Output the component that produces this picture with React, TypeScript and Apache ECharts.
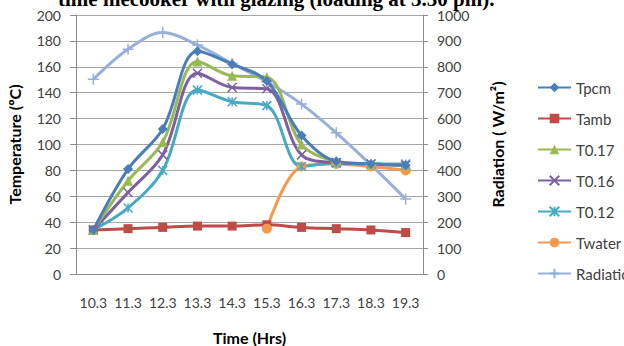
import React, { useEffect, useRef } from "react";
import * as echarts from "echarts";

const categories = ["10.3", "11.3", "12.3", "13.3", "14.3", "15.3", "16.3", "17.3", "18.3", "19.3"];
const tpcm = [34, 81, 112, 172, 162, 149, 107, 87, 85, 84];
const tamb = [34, 35, 36, 37, 37, 38, 36, 35, 34, 32];
const t017 = [34, 72, 102, 164, 153, 152, 100, 87, 85, 84];
const t016 = [34, 63, 92, 155, 144, 143, 92, 86, 85, 84];
const t012 = [34, 51, 80, 142, 133, 130, 83, 86, 85, 85];
const twater = [null, null, null, null, null, 35, 83, 85, 83, 80];
const radiation = [752, 868, 932, 884, 813, 742, 656, 545, 421, 290];

const FONT = "Lato";
const XMARK = "path://M0 0L10 10M10 0L0 10";
const ASTER = "path://M0 0L10 10M10 0L0 10M5 0L5 10";
const PLUS = "path://M5 0L5 10M0 5L10 5";

function lineSeries(name: string, data: any[], color: string, symbol: string, size: number, yAxisIndex = 0, stroked = false) {
  return {
    name,
    type: "line",
    data,
    yAxisIndex,
    smooth: 0.35,
    symbol,
    symbolSize: size,
    showSymbol: true,
    connectNulls: false,
    lineStyle: { color, width: 3 },
    itemStyle: stroked
      ? { color: "rgba(0,0,0,0)", borderColor: color, borderWidth: 1.5 }
      : { color, borderColor: color, borderWidth: 0 },
    emphasis: { disabled: true },
  };
}

export default function App() {
  const ref = useRef<HTMLDivElement>(null);
  useEffect(() => {
    const chart = echarts.init(ref.current!, null, { renderer: "svg" });
    chart.setOption({
      animation: false,
      backgroundColor: "#ffffff",
      textStyle: { fontFamily: FONT },
      grid: { left: 76, right: 201, top: 15, bottom: 72, outerBoundsMode: "none", containLabel: false },
      graphic: [
        {
          type: "text",
          left: 58,
          top: -12,
          style: {
            text: "time mecooker with glazing (loading at 3.30 pm).",
            font: "bold 21px 'Liberation Serif'",
            fill: "#000",
          },
        },
      ],
      legend: {
        orient: "vertical",
        left: 537,
        top: 80,
        padding: 0,
        itemWidth: 33,
        itemHeight: 12,
        itemGap: 16,
        textStyle: { fontFamily: FONT, fontSize: 15, color: "#404040" },
        data: ["Tpcm", "Tamb", "T0.17", "T0.16", "T0.12", "Twater", "Radiation"],
      },
      xAxis: {
        type: "category",
        data: categories,
        boundaryGap: true,
        name: "Time (Hrs)",
        nameLocation: "middle",
        nameGap: 55,
        nameTextStyle: { fontFamily: FONT, fontWeight: "bold", fontSize: 16, color: "#000" },
        axisLine: { lineStyle: { color: "#8c8c8c", width: 1 } },
        axisTick: { show: false },
        axisLabel: { fontFamily: FONT, fontSize: 14, color: "#404040", margin: 21, interval: 0 },
      },
      yAxis: [
        {
          type: "value",
          min: 0,
          max: 200,
          interval: 20,
          name: "Temperature (ºC)",
          nameLocation: "middle",
          nameGap: 54,
          nameTextStyle: { fontFamily: FONT, fontWeight: "bold", fontSize: 16, color: "#000" },
          axisLine: { show: true, lineStyle: { color: "#8c8c8c" } },
          axisTick: { show: true, length: 6, lineStyle: { color: "#8c8c8c" } },
          axisLabel: { fontFamily: FONT, fontSize: 14, color: "#404040", margin: 15 },
          splitLine: { lineStyle: { color: "#a6a6a6", width: 1 } },
        },
        {
          type: "value",
          min: 0,
          max: 1000,
          interval: 100,
          position: "right",
          name: "Radiation ( W/m²)",
          nameLocation: "middle",
          nameGap: 66,
          nameRotate: 90,
          nameTextStyle: { fontFamily: FONT, fontWeight: "bold", fontSize: 16, color: "#000" },
          axisLine: { show: true, lineStyle: { color: "#8c8c8c" } },
          axisTick: { show: true, length: 5, lineStyle: { color: "#8c8c8c" } },
          axisLabel: { fontFamily: FONT, fontSize: 14, color: "#404040", margin: 14, formatter: (v: number) => String(v) },
          splitLine: { show: false },
        },
      ],
      series: [
        lineSeries("Radiation", radiation, "#98AFD6", PLUS, 11, 1, true),
        lineSeries("Tamb", tamb, "#BE4B48", "rect", 9),
        lineSeries("Twater", twater, "#F59A4C", "circle", 10),
        lineSeries("T0.12", t012, "#46AAC5", ASTER, 9, 0, true),
        lineSeries("T0.16", t016, "#7D60A0", XMARK, 9, 0, true),
        lineSeries("T0.17", t017, "#98B954", "triangle", 10),
        lineSeries("Tpcm", tpcm, "#4A7EBB", "diamond", 10),
      ],
    });
    return () => chart.dispose();
  }, []);
  return <div ref={ref} style={{ width: 624, height: 346, position: "absolute", left: 0, top: 0 }} />;
}
